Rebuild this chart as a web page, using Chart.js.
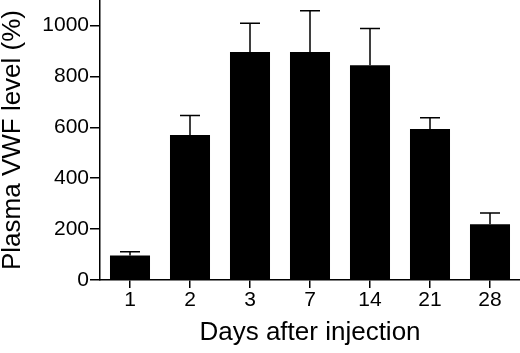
<!DOCTYPE html>
<html>
<head>
<meta charset="utf-8">
<script src="https://cdn.jsdelivr.net/npm/chart.js@4"></script>
<style>
  html, body { margin: 0; padding: 0; background: #fff; }
  #wrap { width: 520px; height: 353px; position: relative; }
</style>
</head>
<body>
<div id="wrap"><canvas id="vwfChart"></canvas></div>
<script>
// data
var days = ['1', '2', '3', '7', '14', '21', '28'];
var vwfMean = [96, 570, 896, 896, 844, 593, 219];
var vwfUpper = [111, 646, 1009, 1058, 988, 637, 263]; // top of error bar
var yTicks = [0, 200, 400, 600, 800, 1000];

// draws the upper error bars with a cap
var errorBars = {
    id: 'errorBars',
    afterDatasetsDraw: function (chart) {
        var ctx = chart.ctx;
        var yScale = chart.scales.y;
        var meta = chart.getDatasetMeta(0);
        ctx.save();
        ctx.strokeStyle = '#000';
        ctx.lineWidth = 1.5;
        meta.data.forEach(function (bar, i) {
            var yTop = yScale.getPixelForValue(vwfUpper[i]);
            ctx.beginPath();
            ctx.moveTo(bar.x, bar.y);
            ctx.lineTo(bar.x, yTop);
            ctx.moveTo(bar.x - 10, yTop);
            ctx.lineTo(bar.x + 10, yTop);
            ctx.stroke();
        });
        ctx.restore();
    }
};

var font = 'Liberation Sans, Arial, Helvetica, sans-serif';

new Chart(document.getElementById('vwfChart').getContext('2d'), {
    type: 'bar',
    data: {
        labels: days,
        datasets: [{
            data: vwfMean,
            backgroundColor: '#000',
            borderWidth: 0,
            barPercentage: 0.667,
            categoryPercentage: 1.0
        }]
    },
    options: {
        responsive: true,
        maintainAspectRatio: false,
        animation: false,
        layout: { padding: 0 },
        plugins: {
            legend: { display: false },
            tooltip: { enabled: false }
        },
        scales: {
            x: {
                grid: {
                    display: true,
                    drawOnChartArea: false,
                    drawTicks: true,
                    tickLength: 8,
                    offset: false,
                    color: '#000',
                    lineWidth: 1.5
                },
                border: { display: true, color: '#000', width: 1.5 },
                ticks: {
                    color: '#000',
                    font: { family: font, size: 21 },
                    padding: 0,
                    maxRotation: 0
                },
                title: {
                    display: true,
                    text: 'Days after injection',
                    color: '#000',
                    font: { family: font, size: 26, lineHeight: 1 },
                    padding: { top: 0, bottom: 7 }
                },
                afterFit: function (scale) { scale.height = 73; }
            },
            y: {
                min: 0,
                max: 1100,
                grid: {
                    display: true,
                    drawOnChartArea: false,
                    drawTicks: true,
                    tickLength: 10,
                    color: '#000',
                    lineWidth: 1.5
                },
                border: { display: true, color: '#000', width: 1.5 },
                ticks: {
                    color: '#000',
                    font: { family: font, size: 21 },
                    padding: 1,
                    callback: function (v) { return String(v); }
                },
                afterBuildTicks: function (scale) {
                    scale.ticks = yTicks.map(function (v) { return { value: v }; });
                },
                title: {
                    display: true,
                    text: 'Plasma VWF level (%)',
                    color: '#000',
                    font: { family: font, size: 26, lineHeight: 1 },
                    padding: { top: 0, bottom: 0 }
                },
                afterFit: function (scale) {
                    scale.width = 100;
                    scale.paddingTop = 0;
                    scale.paddingBottom = 0;
                }
            }
        }
    },
    plugins: [errorBars]
});
</script>
</body>
</html>
